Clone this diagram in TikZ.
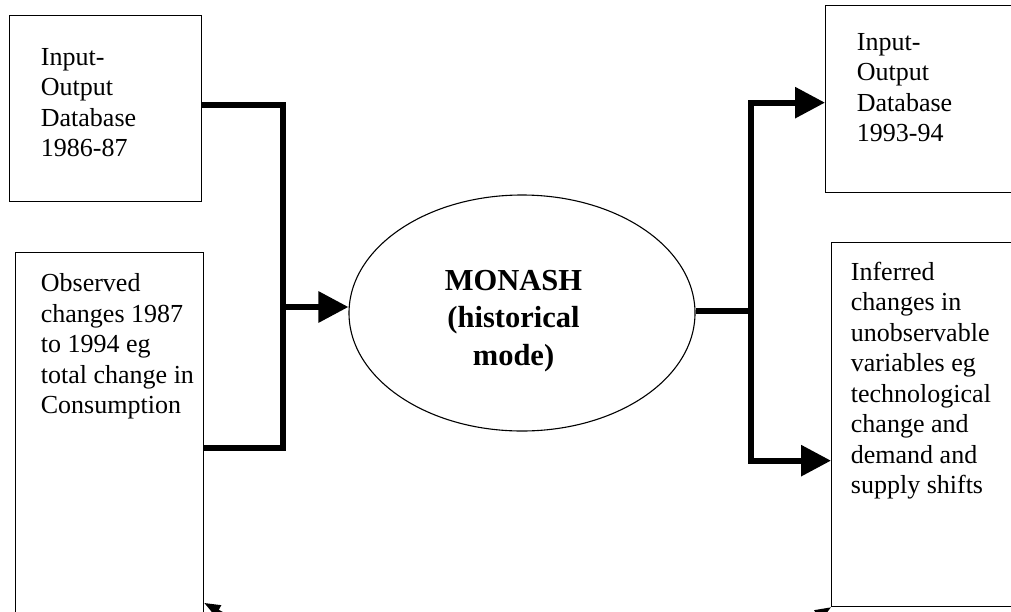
\documentclass[tikz,border=0pt]{standalone}
\usepackage{fontspec}
\setmainfont{Liberation Serif}
\usetikzlibrary{shapes.geometric,arrows.meta,calc}
\begin{document}
\begin{tikzpicture}[x=1pt,y=-1pt,
  boxst/.style={draw, line width=1.3pt, rectangle, inner sep=0pt, anchor=north west},
  conn/.style={line width=6pt, line join=miter, line cap=butt},
  arr/.style={conn, -{Triangle[length=30pt,width=30pt]}},
  frag/.style={line width=2pt, -{Triangle[length=16pt,width=12pt]}},
  lbl/.style={inner sep=0pt, anchor=base west, font=\fontsize{26}{30.5}\selectfont},
  ttl/.style={inner sep=0pt, anchor=base, font=\fontsize{30.5}{37.2}\selectfont\bfseries},
]
\useasboundingbox (0,0) rectangle (1011,611);
\clip (0,0) rectangle (1011,611);
% boxes
\node[boxst, minimum width=192pt, minimum height=186pt] (box1) at (9,15) {};
\node[boxst, minimum width=188pt, minimum height=390pt] (box2) at (15,252) {};
\node[boxst, minimum width=215pt, minimum height=187pt] (box3) at (825,5) {};
\node[boxst, minimum width=210pt, minimum height=364pt] (box4) at (831,242) {};
% ellipse
\node[draw, ellipse, line width=1.1pt, inner sep=0pt, minimum width=346pt, minimum height=236pt] (ell) at (522,313) {};
% texts
\node[lbl] (t1) at ([xshift=31.7pt, yshift=-50pt]box1.north west) {\parbox[t]{160pt}{Input-\\Output\\Database\\1986-87}};
\node[lbl] (t2) at ([xshift=25.7pt, yshift=-39.7pt]box2.north west) {\parbox[t]{170pt}{Observed\\changes 1987\\to 1994 eg\\total change in\\Consumption}};
\node[lbl] (t3) at ([xshift=31.7pt, yshift=-45pt]box3.north west) {\parbox[t]{160pt}{Input-\\Output\\Database\\1993-94}};
\node[lbl] (t4) at ([xshift=19.7pt, yshift=-38pt]box4.north west) {\parbox[t]{180pt}{Inferred\\changes in\\unobservable\\variables eg\\technological\\change and\\demand and\\supply shifts}};
\node[ttl] (et) at (513.5,290.7) {\parbox[t]{220pt}{\centering MONASH\\(historical\\mode)}};
% connectors
\coordinate (jl) at (283,307);
\coordinate (jr) at (751,311);
\draw[conn] ([yshift=3.5pt]box1.east) -| (jl) |- (box2.east);
\draw[arr] (jl) -- (ell.west |- jl);
\draw[conn] (ell.east |- jr) -- (jr);
\draw[arr] (jr) |- ([yshift=-3.5pt]box3.west);
\draw[arr] (jr) |- ([yshift=-36pt]box4.west);
% arrows running out of the frame at the bottom
\coordinate (fl) at (250,628);
\coordinate (fr) at (790,632);
\draw[frag] (fl) -- ($(box2.north east)+(0,351)$);
\draw[frag] (fr) -- (box4.south west);
\end{tikzpicture}
\end{document}
